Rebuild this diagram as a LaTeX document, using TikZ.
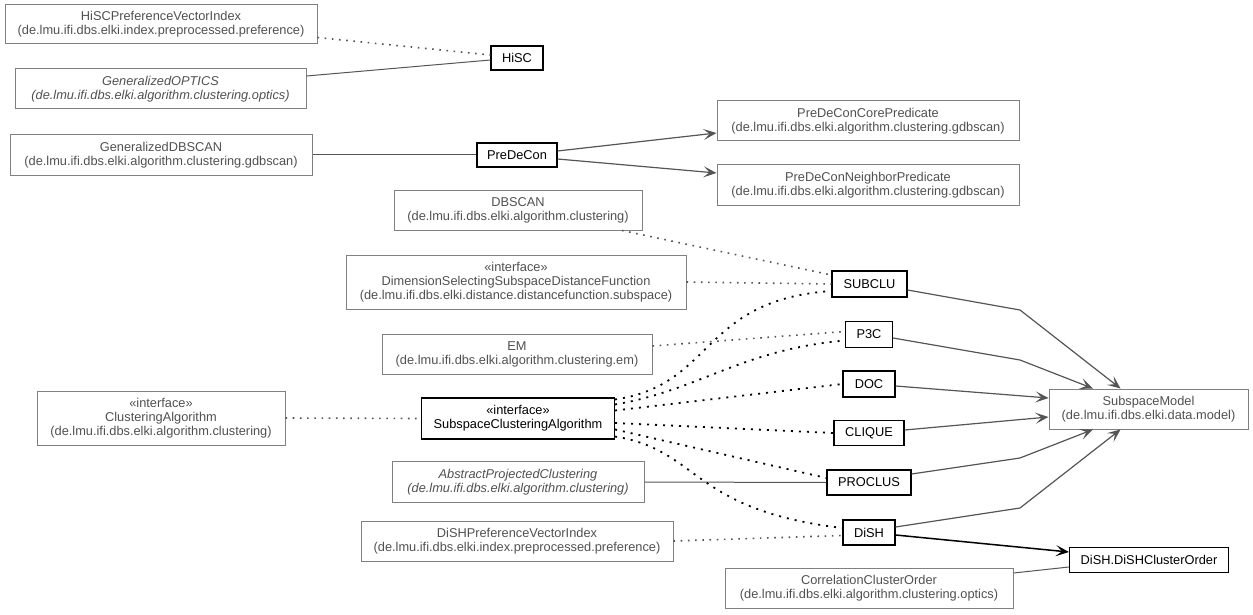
\documentclass[tikz,border=0pt]{standalone}
\usepackage{fontspec}
\setmainfont{Liberation Sans}
\usetikzlibrary{arrows.meta, positioning}
\definecolor{boxgray}{HTML}{808080}
\definecolor{txtgray}{HTML}{505050}
\definecolor{linegray}{HTML}{555555}

\begin{document}
\begin{tikzpicture}[x=1pt, y=-1pt,
    every node/.style={font=\fontsize{12.8}{14}\selectfont, align=center, inner sep=0pt},
    wh/.style 2 args={minimum width=#1pt, minimum height=#2pt},
    pkgbox/.style={draw=boxgray, text=txtgray, line width=1pt},
    clsbox/.style={draw=black, text=black, line width=1.1pt},
    dep/.style={draw=linegray, line width=1.6pt, dash pattern=on 1.6pt off 5.6pt},
    impl/.style={draw=black, line width=1.8pt, dash pattern=on 2pt off 6pt},
    assoc/.style={draw=linegray, line width=1pt},
    nav/.style={draw=linegray, line width=1.2pt, -{Stealth[length=13pt,width=11pt,inset=6pt]}}]
    \useasboundingbox (0,0) rectangle (1253,615);

    % HiSC
    \node[pkgbox, wh={312}{39}] (hpvi) at (161,24.5) {HiSCPreferenceVectorIndex\\(de.lmu.ifi.dbs.elki.index.preprocessed.preference)};
    \node[pkgbox, wh={291}{40}, font=\fontsize{12.8}{14}\selectfont\itshape] (gopt) at (160.5,89) {GeneralizedOPTICS\\(de.lmu.ifi.dbs.elki.algorithm.clustering.optics)};
    \node[clsbox, wh={52}{24}] (hisc) at (517,58) {HiSC};

    % PreDeCon
    \node[pkgbox, wh={302}{40}] (gdbscan) at (161,155) {GeneralizedDBSCAN\\(de.lmu.ifi.dbs.elki.algorithm.clustering.gdbscan)};
    \node[clsbox, wh={80}{24}] (predecon) at (517,155) {PreDeCon};
    \node[pkgbox, wh={302}{40}] (core) at (868,121) {PreDeConCorePredicate\\(de.lmu.ifi.dbs.elki.algorithm.clustering.gdbscan)};
    \node[pkgbox, wh={302}{40}] (neigh) at (868,185) {PreDeConNeighborPredicate\\(de.lmu.ifi.dbs.elki.algorithm.clustering.gdbscan)};

    % left column
    \node[pkgbox, wh={248}{40}] (dbscan) at (518,210) {DBSCAN\\(de.lmu.ifi.dbs.elki.algorithm.clustering)};
    \node[pkgbox, wh={340}{54}] (dimsel) at (516,282) {«interface»\\DimensionSelectingSubspaceDistanceFunction\\(de.lmu.ifi.dbs.elki.distance.distancefunction.subspace)};
    \node[pkgbox, wh={270}{40}] (em) at (517,354) {EM\\(de.lmu.ifi.dbs.elki.algorithm.clustering.em)};
    \node[pkgbox, wh={248}{54}] (clalg) at (161,418) {«interface»\\ClusteringAlgorithm\\(de.lmu.ifi.dbs.elki.algorithm.clustering)};
    \node[clsbox, wh={193}{41}] (sca) at (518,418.5) {«interface»\\SubspaceClusteringAlgorithm};
    \node[pkgbox, wh={252}{41}, font=\fontsize{12.8}{14}\selectfont\itshape] (apc) at (518,482) {AbstractProjectedClustering\\(de.lmu.ifi.dbs.elki.algorithm.clustering)};
    \node[pkgbox, wh={312}{40}] (dpvi) at (517,541) {DiSHPreferenceVectorIndex\\(de.lmu.ifi.dbs.elki.index.preprocessed.preference)};

    % algorithms
    \node[clsbox, wh={75}{26}] (subclu) at (869.5,284) {SUBCLU};
    \node[clsbox, wh={47}{26}] (p3c) at (869,334.5) {P3C};
    \node[clsbox, wh={52}{26}] (doc) at (869,384) {DOC};
    \node[clsbox, wh={70}{25}] (clique) at (869,433) {CLIQUE};
    \node[clsbox, wh={84}{25}] (proclus) at (869,482.5) {PROCLUS};
    \node[clsbox, wh={52}{25}] (dish) at (869,532.5) {DiSH};

    % right column
    \node[pkgbox, wh={199}{40}] (smodel) at (1148.5,409) {SubspaceModel\\(de.lmu.ifi.dbs.elki.data.model)};
    \node[clsbox, wh={159}{25}] (dco) at (1149,560) {DiSH.DiSHClusterOrder};
    \node[pkgbox, wh={288}{40}] (cco) at (869,588) {CorrelationClusterOrder\\(de.lmu.ifi.dbs.elki.algorithm.clustering.optics)};

    % HiSC and PreDeCon links
    \draw[dep] ([yshift=-13pt]hpvi.east) -- ([yshift=3pt]hisc.west);
    \draw[assoc] ([yshift=13pt]gopt.east) -- ([yshift=-2pt]hisc.west);
    \draw[assoc] (gdbscan.east) -- (predecon.west);
    \draw[nav] ([yshift=4pt]predecon.east) -- ([yshift=-12pt]core.west);
    \draw[nav] ([yshift=-4pt]predecon.east) -- ([yshift=12pt]neigh.west);

    % uses
    \draw[dep] ([xshift=104pt]dbscan.south) -- ([yshift=9pt]subclu.west);
    \draw[dep] (dimsel.east) -- (subclu.west);
    \draw[dep] ([yshift=8pt]em.east) -- ([yshift=3pt]p3c.west);
    \draw[dep] (clalg.east) -- (sca.west);
    \draw[assoc] (apc.east) -- (proclus.west);
    \draw[dep] (dpvi.east) -- ([yshift=-3pt]dish.west);

    % implementations
    \draw[impl] ([yshift=-2pt]sca.north east) .. controls (715,385) and (700,300) .. ([yshift=-7pt]subclu.west);
    \draw[impl] ([yshift=-7pt]sca.north east) .. controls (700,390) and (740,350) .. ([yshift=-6pt]p3c.west);
    \draw[impl] ([yshift=8pt]sca.east) -- (doc.west);
    \draw[impl] ([yshift=-4.5pt]sca.east) -- (clique.west);
    \draw[impl] ([yshift=-11pt]sca.east) -- ([yshift=4.5pt]proclus.west);
    \draw[impl] ([yshift=3pt]sca.south east) .. controls (700,450) and (690,510) .. ([yshift=4.5pt]dish.west);

    % models
    \draw[nav] ([yshift=-6pt]subclu.east) -- (1020,310) -- ([xshift=-28pt]smodel.north);
    \draw[nav] ([yshift=-3.5pt]p3c.east) -- (1020,360) -- ([xshift=-55.5pt]smodel.north);
    \draw[nav] ([yshift=-2pt]doc.east) -- ([yshift=11pt]smodel.west);
    \draw[nav] ([yshift=3pt]clique.east) -- ([yshift=-8pt]smodel.west);
    \draw[nav] ([yshift=8.5pt]proclus.east) -- (1020,458) -- ([xshift=-55.5pt]smodel.south);
    \draw[nav] ([yshift=5.5pt]dish.east) -- (1020,508) -- ([xshift=-28pt]smodel.south);
    \draw[nav, draw=black, line width=1.5pt] ([yshift=-2.5pt]dish.east) -- ([yshift=8pt]dco.west);
    \draw[assoc] ([yshift=15pt]cco.east) -- ([yshift=-7pt]dco.west);
\end{tikzpicture}
\end{document}
